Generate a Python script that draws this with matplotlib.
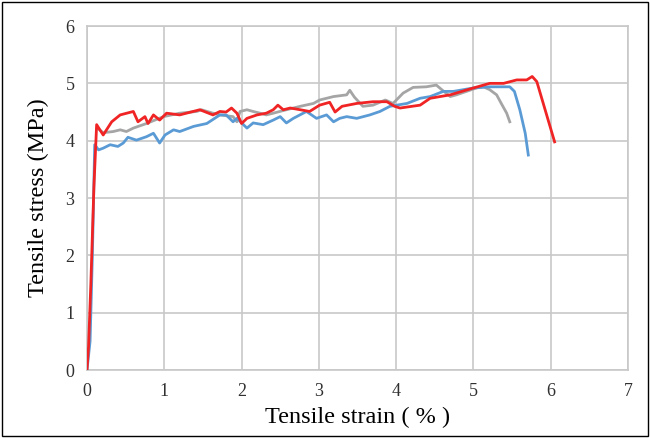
import matplotlib
matplotlib.use("Agg")
import matplotlib.pyplot as plt
from matplotlib.patches import Rectangle

# Tensile strain (%) / stress (MPa), three specimens
red_x = [0, 0.02, 0.05, 0.09, 0.125, 0.21, 0.32, 0.43, 0.6, 0.66, 0.75, 0.79, 0.86,
         0.94, 1.03, 1.2, 1.46, 1.63, 1.72, 1.8, 1.87, 1.94, 2.0, 2.07, 2.2, 2.32,
         2.41, 2.47, 2.54, 2.63, 2.76, 2.88, 3.01, 3.14, 3.21, 3.3, 3.49, 3.7, 3.88,
         3.98, 4.05, 4.31, 4.44, 4.7, 5.0, 5.21, 5.39, 5.56, 5.69, 5.76, 5.82, 6.05]
red_y = [0, 0.4, 1.5, 3.2, 4.28, 4.10, 4.33, 4.45, 4.51, 4.33, 4.42, 4.30, 4.45,
         4.36, 4.48, 4.45, 4.54, 4.45, 4.51, 4.50, 4.57, 4.48, 4.30, 4.39, 4.45, 4.48,
         4.54, 4.62, 4.54, 4.57, 4.54, 4.51, 4.62, 4.67, 4.50, 4.60, 4.65, 4.68, 4.68,
         4.60, 4.57, 4.62, 4.74, 4.80, 4.92, 5.00, 5.00, 5.06, 5.06, 5.12, 5.03, 3.98]

gray_x = [0.13, 0.21, 0.34, 0.43, 0.51, 0.6, 0.77, 0.99, 1.2, 1.42, 1.48, 1.63, 1.72,
          1.89, 1.94, 1.98, 2.07, 2.15, 2.24, 2.32, 2.41, 2.58, 2.76, 2.93, 3.01, 3.19,
          3.36, 3.4, 3.46, 3.57, 3.7, 3.86, 3.96, 4.09, 4.22, 4.39, 4.52, 4.59, 4.7,
          4.78, 5.04, 5.13, 5.21, 5.3, 5.36, 5.43, 5.47]
gray_y = [4.22, 4.14, 4.16, 4.19, 4.16, 4.22, 4.30, 4.42, 4.48, 4.51, 4.54, 4.48, 4.45,
          4.42, 4.33, 4.51, 4.54, 4.51, 4.48, 4.45, 4.48, 4.54, 4.60, 4.65, 4.71, 4.77,
          4.80, 4.88, 4.76, 4.60, 4.62, 4.71, 4.65, 4.83, 4.93, 4.94, 4.97, 4.89, 4.77,
          4.80, 4.92, 4.94, 4.89, 4.80, 4.65, 4.48, 4.33]

blue_x = [0, 0.04, 0.07, 0.1, 0.15, 0.21, 0.3, 0.4, 0.47, 0.53, 0.64, 0.77, 0.86, 0.94,
          1.01, 1.12, 1.2, 1.38, 1.55, 1.72, 1.8, 1.89, 1.94, 2.07, 2.15, 2.28, 2.41,
          2.5, 2.58, 2.67, 2.84, 2.97, 3.1, 3.19, 3.27, 3.36, 3.49, 3.66, 3.79, 3.92,
          4.14, 4.31, 4.44, 4.61, 4.74, 5.0, 5.21, 5.47, 5.53, 5.6, 5.67, 5.71]
blue_y = [0, 0.5, 2.0, 3.93, 3.84, 3.87, 3.93, 3.90, 3.96, 4.06, 4.01, 4.07, 4.13, 3.96,
          4.10, 4.19, 4.16, 4.25, 4.30, 4.45, 4.45, 4.33, 4.39, 4.22, 4.31, 4.28, 4.36,
          4.42, 4.31, 4.39, 4.51, 4.39, 4.45, 4.33, 4.39, 4.42, 4.39, 4.45, 4.51, 4.60,
          4.65, 4.74, 4.77, 4.86, 4.86, 4.92, 4.94, 4.94, 4.86, 4.54, 4.13, 3.75]

x_ticks = [0, 1, 2, 3, 4, 5, 6, 7]
y_ticks = [0, 1, 2, 3, 4, 5, 6]

plt.rcParams["font.family"] = ["Liberation Serif", "DejaVu Serif"]

fig = plt.figure(figsize=(6.5, 4.38), dpi=100)
ax = fig.add_axes([0.1338, 0.155, 0.8324, 0.7856])

grid_c = "#C8C8C8"
ax.plot(gray_x, gray_y, color="#A5A5A5", lw=2.0, zorder=3)
ax.plot(blue_x, blue_y, color="#5B9BD5", lw=2.0, zorder=4)
ax.plot(red_x, red_y, color="#F02424", lw=2.0, zorder=5)

ax.set_xlim(0, 7)
ax.set_ylim(0, 6)
ax.set_xticks(x_ticks)
ax.set_yticks(y_ticks)
ax.grid(True, color=grid_c, lw=1.2)
ax.set_axisbelow(True)
ax.tick_params(length=0, labelsize=13, colors="#303030", pad=9)
for s in ax.spines.values():
    s.set_color(grid_c)
    s.set_linewidth(1.2)

ax.set_xlabel("Tensile strain ( % )", fontsize=17.5, labelpad=5)
ax.set_ylabel("Tensile stress (MPa)", fontsize=17.5, labelpad=12)

fig.patches.append(Rectangle((0.003, 0.004), 0.994, 0.992, transform=fig.transFigure,
                             fill=False, edgecolor="black", lw=1.0))

fig.savefig("out.png", dpi=100)
